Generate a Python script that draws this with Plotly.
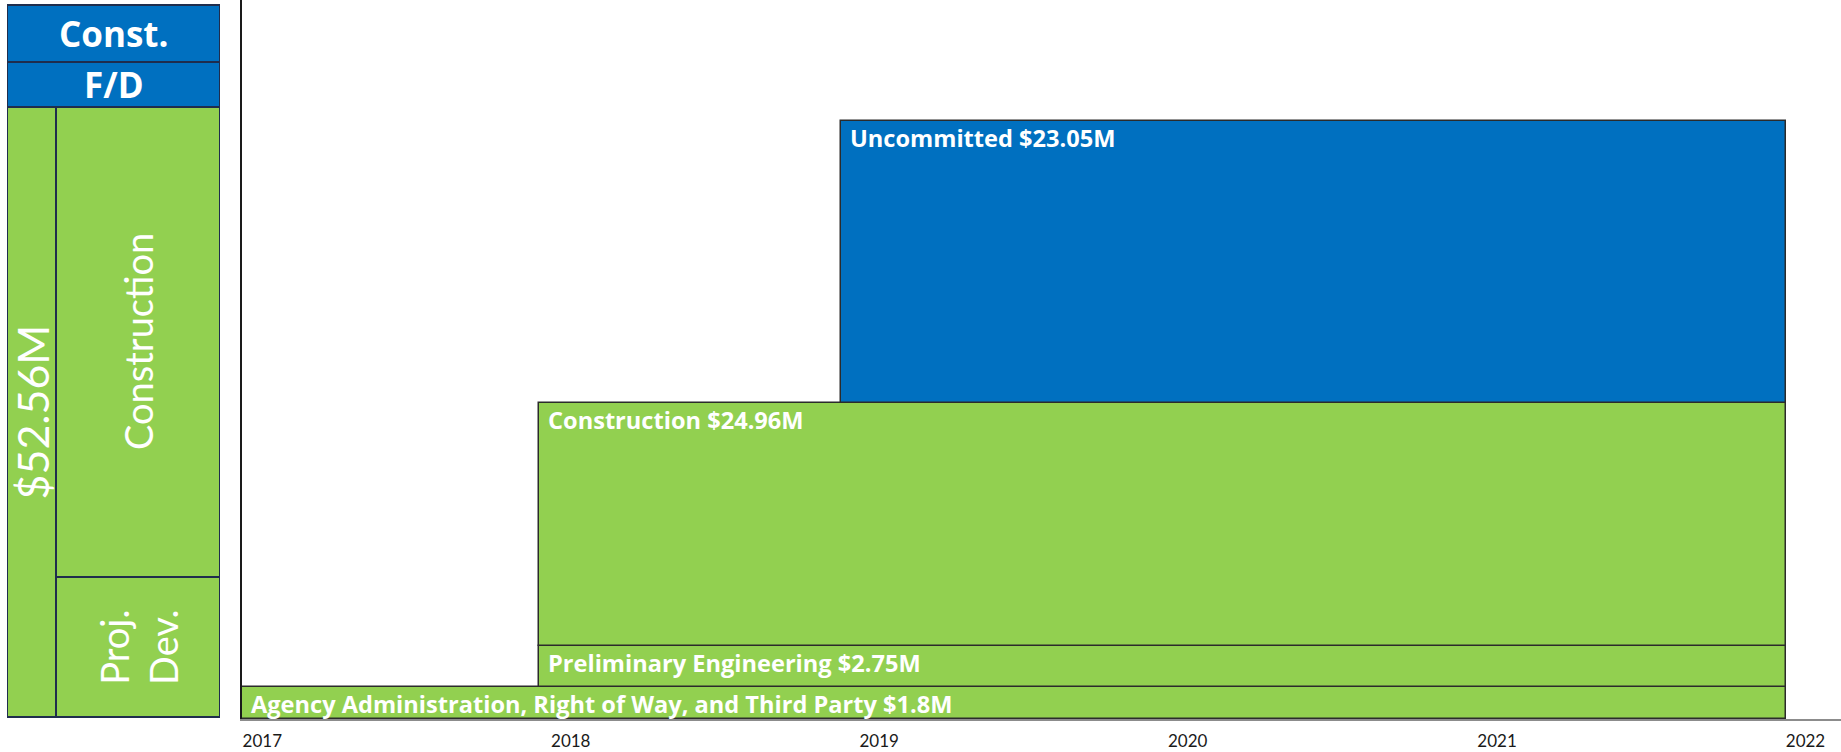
import plotly.graph_objects as go
import pandas as pd

# ---------------- data ----------------
categories = [
    "Agency Administration, Right of Way, and Third Party",
    "Preliminary Engineering",
    "Construction",
    "Uncommitted",
]
amounts_musd = [1.8, 2.75, 24.96, 23.05]
start_dates = ["2016-12-08", "2017-11-24", "2017-11-24", "2018-11-17"]
end_dates = ["2021-12-09", "2021-12-09", "2021-12-09", "2021-12-09"]
band_heights = [32, 41, 243, 282]          # visual band thickness (arbitrary units)
bar_colors = ["#92D050", "#92D050", "#92D050", "#0070C0"]

tick_years = ["2017", "2018", "2019", "2020", "2021", "2022"]

# left-hand phase panel
panel_labels = ["Const.", "F/D", "TOTAL", "Construction", "Proj.<br>Dev."]
panel_y_low = [657, 612, 2, 142, 2]
panel_y_high = [714, 657, 612, 612, 142]
panel_x_low = [0.0, 0.0, 0.0, 0.23, 0.23]
panel_x_high = [1.0, 1.0, 0.23, 1.0, 1.0]
panel_colors = ["#0070C0", "#0070C0", "#92D050", "#92D050", "#92D050"]
panel_bold = [True, True, False, False, False]
panel_angle = [0, 0, -90, -90, -90]
panel_size = [35, 35, 43, 38, 38]

total = sum(amounts_musd)
panel_labels[2] = f"${total:.2f}M"

FONT = "Lato"
BOLD_FONT = "Open Sans"
W, H = 1841, 752

fig = go.Figure()

# ---------------- main chart bars ----------------
bases = []
acc = 0
for h in band_heights:
    bases.append(acc)
    acc += h

for i, cat in enumerate(categories):
    s = pd.Timestamp(start_dates[i])
    e = pd.Timestamp(end_dates[i])
    dur_ms = (e - s).total_seconds() * 1000
    fig.add_trace(go.Bar(
        orientation="h",
        y=[bases[i] + band_heights[i] / 2],
        x=[dur_ms],
        base=[start_dates[i]],
        width=[band_heights[i]],
        marker=dict(color=bar_colors[i], line=dict(color="#2b2b2b", width=1.5)),
        xaxis="x", yaxis="y",
        showlegend=False,
        hoverinfo="skip",
    ))
    amt = f"{amounts_musd[i]:g}"
    fig.add_annotation(
        x=start_dates[i], y=bases[i] + band_heights[i],
        xref="x", yref="y",
        text=f"{cat} ${amt}M",
        showarrow=False, xanchor="left", yanchor="top",
        xshift=7, yshift=1.5,
        font=dict(family=BOLD_FONT, size=23.6, color="white", weight="bold"),
    )

# ---------------- left panel ----------------
for i, lab in enumerate(panel_labels):
    fig.add_trace(go.Bar(
        orientation="h",
        y=[(panel_y_low[i] + panel_y_high[i]) / 2],
        x=[panel_x_high[i] - panel_x_low[i]],
        base=[panel_x_low[i]],
        width=[panel_y_high[i] - panel_y_low[i]],
        marker=dict(color=panel_colors[i], line=dict(color="#1f2d4d", width=2)),
        xaxis="x2", yaxis="y",
        showlegend=False,
        hoverinfo="skip",
    ))
    fig.add_annotation(
        x=(panel_x_low[i] + panel_x_high[i]) / 2,
        y=(panel_y_low[i] + panel_y_high[i]) / 2,
        xref="x2", yref="y",
        text=lab, showarrow=False, textangle=panel_angle[i],
        xanchor="center", yanchor="middle",
        font=dict(family=BOLD_FONT if panel_bold[i] else FONT,
                  size=panel_size[i], color="white",
                  weight="bold" if panel_bold[i] else "normal"),
    )

fig.update_layout(
    width=W, height=H,
    margin=dict(l=0, r=0, t=0, b=33),
    paper_bgcolor="white", plot_bgcolor="white",
    barmode="overlay",
    bargap=0,
    xaxis=dict(
        type="date",
        domain=[242 / W, 1.0],
        range=["2016-12-08", "2022-02-12"],
        tickvals=[f"{y}-01-01" for y in tick_years],
        ticktext=tick_years,
        showgrid=False, zeroline=False,
        showline=True, linecolor="#8c8c8c", linewidth=1.5,
        ticks="",
        ticklabelstandoff=6,
        tickfont=dict(family=FONT, size=17, color="#1a1a1a"),
        anchor="y",
        fixedrange=True,
    ),
    xaxis2=dict(
        domain=[7 / W, 220 / W],
        range=[0, 1],
        visible=False,
        anchor="y",
        fixedrange=True,
    ),
    yaxis=dict(
        range=[0, 719],
        showgrid=False, zeroline=False,
        showticklabels=False, ticks="",
        showline=True, linecolor="#1a1a1a", linewidth=1.5,
        anchor="x",
        fixedrange=True,
    ),
)

fig.write_html("out.html")
